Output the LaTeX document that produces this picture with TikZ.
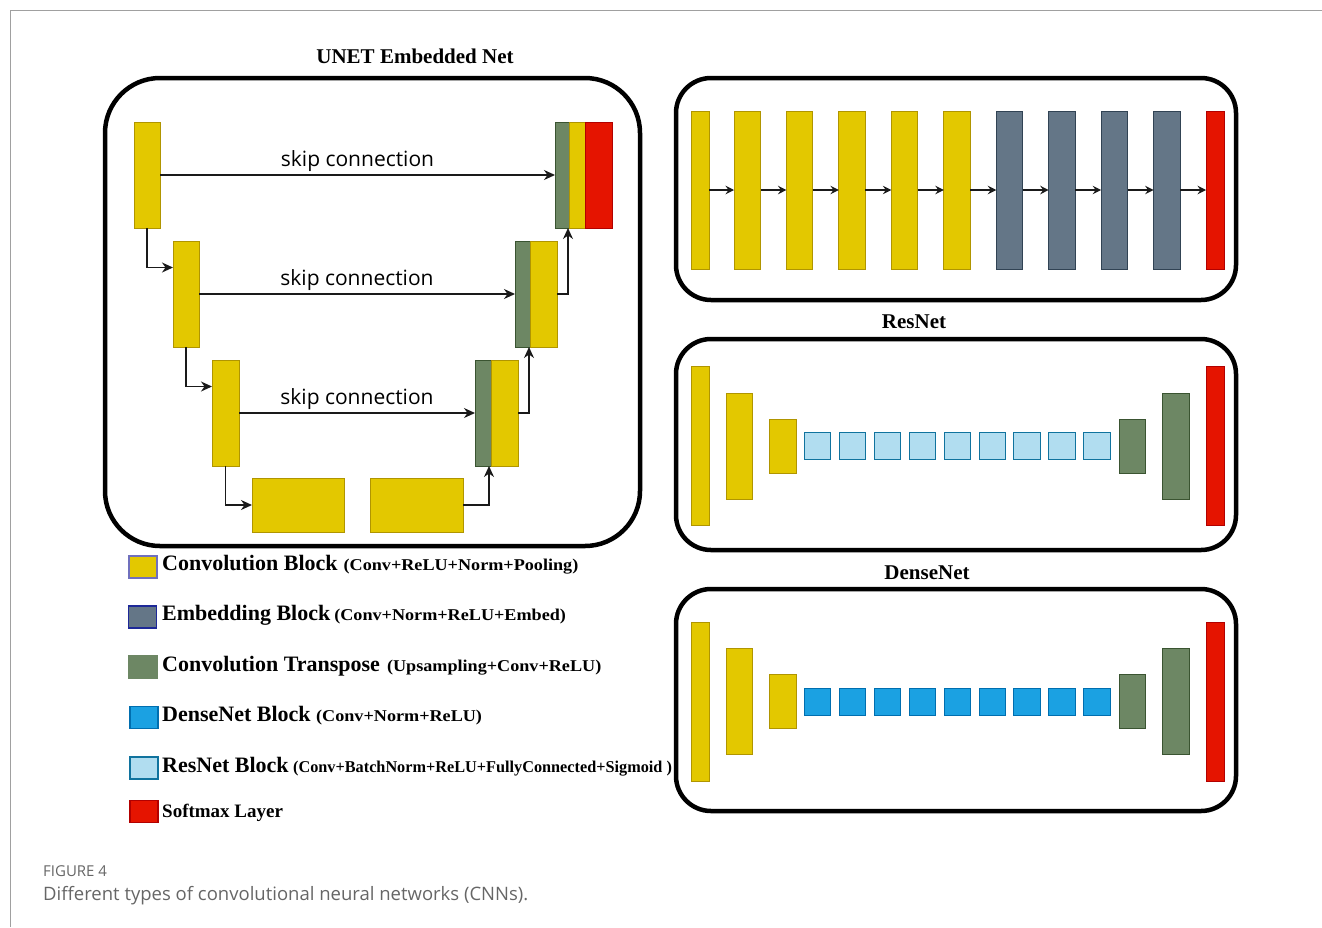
\documentclass[tikz,border=0pt]{standalone}
\usepackage{fontspec}
\setmainfont{Liberation Serif}
\newfontfamily\sansf{Open Sans}
\newfontfamily\parf{Liberation Serif}[FakeStretch=1.1]
\newfontfamily\parfn{Liberation Serif}[FakeStretch=0.985]
\usetikzlibrary{arrows.meta,calc}
\definecolor{yel}{HTML}{E3C800}\definecolor{yelD}{HTML}{B09500}
\definecolor{emb}{HTML}{647687}\definecolor{embD}{HTML}{314354}
\definecolor{grn}{HTML}{6D8764}\definecolor{grnD}{HTML}{3A5431}
\definecolor{redF}{HTML}{E51400}\definecolor{redD}{HTML}{B20000}
\definecolor{lblue}{HTML}{B1DDF0}\definecolor{lblueD}{HTML}{10739E}
\definecolor{dblue}{HTML}{1BA1E2}\definecolor{dblueD}{HTML}{006EAF}
\definecolor{capgray}{HTML}{666666}
\definecolor{framegray}{HTML}{A0A0A0}
\definecolor{linec}{HTML}{1A1A1A}
\tikzset{
  blk/.style={inner sep=0pt, outer sep=0pt, line width=1pt},
  convb/.style={blk, fill=yel, draw=yelD},
  embb/.style={blk, fill=emb, draw=embD},
  tconvb/.style={blk, fill=grn, draw=grnD},
  softb/.style={blk, fill=redF, draw=redD},
  resb/.style={blk, fill=lblue, draw=lblueD},
  denb/.style={blk, fill=dblue, draw=dblueD},
  arr/.style={draw=linec, -{Stealth[length=11pt,width=10pt,inset=3.5pt]}, line width=1.3pt},
  arrs/.style={draw=linec, -{Stealth[length=8.5pt,width=8.5pt,inset=3pt]}, line width=1.3pt},
  panelbox/.style={draw, line width=4.5pt, rounded corners=#1, inner sep=0pt, outer sep=0pt, anchor=north west},
  skiplbl/.style={font=\sansf\fontsize{21}{24}\selectfont, inner sep=0pt, above=3pt},
  ttl/.style={font=\bfseries\fontsize{21}{25}\selectfont, inner sep=0pt, anchor=base},
  legtxt/.style={inner sep=0pt, anchor=base west},
  sw/.style={line width=1.5pt, inner sep=0pt, outer sep=0pt, anchor=north west, minimum width=28pt, minimum height=22pt},
}
\newcommand\bx[6]{\node[#2, anchor=north west, minimum width={(#5-(#3))*1pt}, minimum height={(#6-(#4))*1pt}] (#1) at (#3,#4) {};}
\newcommand\main[1]{{\fontsize{22}{26}\selectfont\bfseries #1}}
\newcommand\paren[1]{{\parf\fontsize{16.5}{20}\selectfont\bfseries #1}}
\newcommand\parenn[1]{{\parfn\fontsize{16.5}{20}\selectfont\bfseries #1}}
\begin{document}
\begin{tikzpicture}[x=1pt,y=-1pt]
\useasboundingbox (0,0) rectangle (1322,927);
\draw[framegray, line width=1pt] (1322,10) -- (10,10) -- (10,927);

% ---------------- UNET ----------------
\node[ttl] (tunet) at (415,63) {UNET Embedded Net};
\node[panelbox=55pt, minimum width=535pt, minimum height=468pt] (unet) at (105,78) {};
\bx{b1}{convb}{134}{122}{160}{228}
\bx{b2}{convb}{173}{241}{199}{347}
\bx{b3}{convb}{212}{360}{239}{466}
\bx{bot1}{convb}{252}{478}{344}{532}
\bx{bot2}{convb}{370}{478}{463}{532}
\bx{d3g}{tconvb}{475}{360}{491}{466}
\bx{d3y}{convb}{491}{360}{518}{466}
\bx{d2g}{tconvb}{515}{241}{530}{347}
\bx{d2y}{convb}{530}{241}{557}{347}
\bx{d1g}{tconvb}{555}{122}{569}{228}
\bx{d1y}{convb}{569}{122}{585}{228}
\bx{d1r}{softb}{585}{122}{612}{228}

\draw[arr] (b1.south) |- ($(b2.north west)!0.25!(b2.south west)$);
\draw[arr] (b2.south) |- ($(b3.north west)!0.25!(b3.south west)$);
\draw[arr] (b3.south) |- (bot1.west);
\draw[arr] (bot2.east) -| ([xshift=-2pt]d3g.south east);
\draw[arr] (d3y.east) -| ([xshift=-1pt]d2y.south west);
\draw[arr] (d2y.east) -| ([xshift=-1pt]d1y.south west);
\draw[arr] (b1.east) -- node[skiplbl] (sk1) {skip connection} (d1g.west);
\draw[arr] (b2.east) -- node[skiplbl] (sk2) {skip connection} (d2g.west);
\draw[arr] (b3.east) -- node[skiplbl] (sk3) {skip connection} (d3g.west);

% ---------------- Panel 1 ----------------
\node[panelbox=35pt, minimum width=560pt, minimum height=222pt] (pan1) at (676,78) {};
\node[convb, anchor=west, minimum width=18pt, minimum height=158pt] (p1) at (691,190) {};
\foreach \i/\st in {2/convb,3/convb,4/convb,5/convb,6/convb,7/embb,8/embb,9/embb,10/embb}{
  \pgfmathsetmacro\xx{734+52.45*(\i-2)}
  \node[\st, anchor=west, minimum width=26.5pt, minimum height=158pt] (p\i) at (\xx,190) {};
}
\node[softb, anchor=west, minimum width=18pt, minimum height=158pt] (p11) at (1206,190) {};
\foreach \i [count=\j from 2] in {1,...,10}{
  \draw[arrs] (p\i.east) -- (p\j.west);
}

% ---------------- ResNet ----------------
\node[ttl] (tres) at (914,328) {ResNet};
\node[panelbox=35pt, minimum width=560pt, minimum height=211pt] (pan2) at (676,339) {};
\node[convb, anchor=west, minimum width=18pt, minimum height=159pt] (r1) at (691,446) {};
\node[convb, anchor=west, minimum width=26pt, minimum height=106pt] (r2) at (726,446) {};
\node[convb, anchor=west, minimum width=26.5pt, minimum height=54pt] (r3) at (769.5,446) {};
\foreach \i in {1,...,9}{
  \pgfmathsetmacro\xx{804.3+34.94*(\i-1)}
  \node[resb, anchor=west, minimum width=26.6pt, minimum height=27pt] (rs\i) at (\xx,446) {};
}
\node[tconvb, anchor=west, minimum width=26.5pt, minimum height=54pt] (rg1) at (1119,446) {};
\node[tconvb, anchor=west, minimum width=27pt, minimum height=106pt] (rg2) at (1162,446) {};
\node[softb, anchor=west, minimum width=18pt, minimum height=159pt] (rr) at (1206,446) {};

% ---------------- DenseNet ----------------
\node[ttl] (tden) at (927,579) {DenseNet};
\node[panelbox=35pt, minimum width=560pt, minimum height=222pt] (pan3) at (676,589) {};
\node[convb, anchor=west, minimum width=18pt, minimum height=159pt] (n1) at (691,701.5) {};
\node[convb, anchor=west, minimum width=26pt, minimum height=106pt] (n2) at (726,701.5) {};
\node[convb, anchor=west, minimum width=26.5pt, minimum height=54pt] (n3) at (769.5,701.5) {};
\foreach \i in {1,...,9}{
  \pgfmathsetmacro\xx{804.3+34.94*(\i-1)}
  \node[denb, anchor=west, minimum width=26.6pt, minimum height=27pt] (ns\i) at (\xx,701.5) {};
}
\node[tconvb, anchor=west, minimum width=26.5pt, minimum height=54pt] (ng1) at (1119,701.5) {};
\node[tconvb, anchor=west, minimum width=27pt, minimum height=106pt] (ng2) at (1162,701.5) {};
\node[softb, anchor=west, minimum width=18pt, minimum height=159pt] (nr) at (1206,701.5) {};

% ---------------- Legend ----------------
\node[sw, fill=yel, draw=framegray!70!blue] (s1) at (129,556) {};
\node[sw, fill=emb, draw=embD!60!blue] (s2) at (128.5,606) {};
\node[sw, fill=grn, draw=grn] (s3) at (129,656) {};
\node[sw, fill=dblue, draw=dblueD] (s4) at (130,706.5) {};
\node[sw, fill=lblue, draw=lblueD] (s5) at (130,757) {};
\node[sw, fill=redF, draw=redD] (s6) at (130,800.5) {};
\node[legtxt] (l1) at (162,570) {\main{Convolution Block}\hspace{3.5pt} \paren{(Conv+ReLU+Norm+Pooling)}};
\node[legtxt] (l2) at (162,620.5) {\main{Embedding Block}\hspace{1.5pt} \paren{(Conv+Norm+ReLU+Embed)}};
\node[legtxt] (l3) at (162,671) {\main{Convolution Transpose}\hspace{4.5pt} \paren{(Upsampling+Conv+ReLU)}};
\node[legtxt] (l4) at (162,721.5) {\main{DenseNet Block}\hspace{3pt} \paren{(Conv+Norm+ReLU)}};
\node[legtxt] (l5) at (162,772.5) {\main{ResNet Block}\hspace{2pt} \parenn{(Conv+BatchNorm+ReLU+FullyConnected+Sigmoid )}};
\node[legtxt] (l6) at (162,817.5) {{\fontsize{19}{22}\selectfont\bfseries Softmax Layer}};

% ---------------- Caption ----------------
\node[legtxt, text=capgray, font=\sansf\fontsize{15}{18}\selectfont] (fig) at (43,876) {FIGURE 4};
\node[legtxt, text=capgray, font=\sansf\fontsize{18.5}{22}\selectfont] (cap) at (43,900) {Different types of convolutional neural networks (CNNs).};
\end{tikzpicture}
\end{document}
